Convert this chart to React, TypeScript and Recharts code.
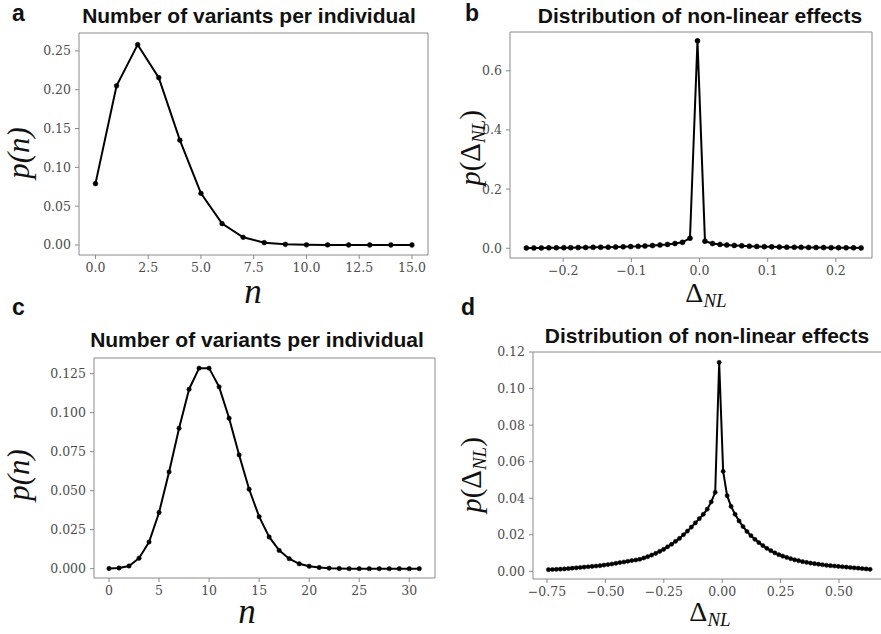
import { LineChart, Line, XAxis, YAxis } from 'recharts';

const W = 881;
const H = 634;
const CHART_W = 900;

// a: number of variants per individual (low)
const variantsA = [0, 1, 2, 3, 4, 5, 6, 7, 8, 9, 10, 11, 12, 13, 14, 15];
const probA = [0.079, 0.205, 0.258, 0.2155, 0.135, 0.0665, 0.0275, 0.0099, 0.003, 0.0008, 0.0002, 0.0001, 0, 0, 0, 0];
const ticksAX = [0, 2.5, 5, 7.5, 10, 12.5, 15];
const ticksAY = [0, 0.05, 0.1, 0.15, 0.2, 0.25];

// b: distribution of non-linear effects (narrow)
const deltaB = [
  -0.254, -0.243, -0.232, -0.221, -0.21, -0.199, -0.189, -0.178, -0.167, -0.156,
  -0.145, -0.134, -0.123, -0.112, -0.101, -0.09, -0.08, -0.069, -0.058, -0.047,
  -0.036, -0.025, -0.014, -0.003, 0.008, 0.019, 0.03, 0.04, 0.051, 0.062,
  0.073, 0.084, 0.095, 0.106, 0.117, 0.128, 0.139, 0.149, 0.16, 0.171,
  0.182, 0.193, 0.204, 0.215, 0.226, 0.237,
];
const probB = [
  0.001, 0.001, 0.0012, 0.0013, 0.0015, 0.0017, 0.002, 0.0022, 0.0025, 0.003,
  0.0033, 0.0037, 0.0042, 0.0048, 0.0055, 0.0063, 0.0075, 0.009, 0.011, 0.013,
  0.016, 0.02, 0.034, 0.701, 0.024, 0.016, 0.013, 0.011, 0.0095, 0.008,
  0.007, 0.006, 0.0053, 0.0047, 0.0042, 0.0037, 0.0033, 0.003, 0.0027, 0.0024,
  0.0021, 0.0019, 0.0017, 0.0015, 0.0013, 0.0012,
];
const ticksBX = [-0.2, -0.1, 0, 0.1, 0.2];
const ticksBY = [0, 0.2, 0.4, 0.6];

// c: number of variants per individual (high)
const variantsC = [
  0, 1, 2, 3, 4, 5, 6, 7, 8, 9, 10, 11, 12, 13, 14, 15,
  16, 17, 18, 19, 20, 21, 22, 23, 24, 25, 26, 27, 28, 29, 30, 31,
];
const probC = [
  0.0001, 0.0004, 0.0017, 0.0067, 0.0171, 0.036, 0.062, 0.09, 0.115, 0.1285, 0.1285, 0.1165, 0.0964, 0.0729, 0.0509, 0.0333,
  0.0203, 0.0117, 0.0064, 0.0031, 0.0015, 0.0007, 0.0003, 0.0001, 0, 0, 0, 0, 0, 0, 0, 0,
];
const ticksCX = [0, 5, 10, 15, 20, 25, 30];
const ticksCY = [0, 0.025, 0.05, 0.075, 0.1, 0.125];

// d: distribution of non-linear effects (wide)
const deltaD = [
  -0.744, -0.727, -0.71, -0.693, -0.676, -0.659, -0.642, -0.625, -0.608, -0.591,
  -0.574, -0.557, -0.54, -0.523, -0.506, -0.489, -0.472, -0.455, -0.438, -0.421,
  -0.404, -0.387, -0.37, -0.353, -0.336, -0.319, -0.302, -0.285, -0.268, -0.251,
  -0.234, -0.217, -0.2, -0.183, -0.166, -0.149, -0.132, -0.115, -0.098, -0.081,
  -0.064, -0.047, -0.03, -0.013, 0.004, 0.021, 0.038, 0.055, 0.072, 0.089,
  0.106, 0.123, 0.14, 0.157, 0.174, 0.191, 0.208, 0.225, 0.242, 0.259,
  0.276, 0.293, 0.31, 0.327, 0.344, 0.361, 0.378, 0.395, 0.412, 0.429,
  0.446, 0.463, 0.48, 0.497, 0.514, 0.531, 0.548, 0.565, 0.582, 0.599,
  0.616, 0.633,
];
const probD = [
  0.0009, 0.001, 0.0011, 0.0012, 0.0013, 0.0015, 0.0017, 0.0019, 0.0021, 0.0023,
  0.0025, 0.0027, 0.0029, 0.0031, 0.0034, 0.0037, 0.004, 0.0044, 0.0048, 0.0051,
  0.0055, 0.0059, 0.0062, 0.0066, 0.0073, 0.008, 0.0089, 0.0098, 0.0109, 0.012,
  0.0134, 0.0148, 0.0164, 0.018, 0.02, 0.022, 0.0242, 0.0265, 0.0288, 0.0312,
  0.034, 0.038, 0.0432, 0.1143, 0.0547, 0.0414, 0.0355, 0.0312, 0.0276, 0.0245,
  0.0218, 0.0195, 0.0175, 0.0157, 0.0141, 0.0126, 0.0113, 0.0101, 0.0091, 0.0083,
  0.0076, 0.0069, 0.0063, 0.0058, 0.0053, 0.0049, 0.0045, 0.0042, 0.0039, 0.0036,
  0.0033, 0.0031, 0.0029, 0.0027, 0.0025, 0.0023, 0.0021, 0.0019, 0.0017, 0.0015,
  0.0013, 0.0011,
];
const ticksDX = [-0.75, -0.5, -0.25, 0, 0.25, 0.5];
const ticksDY = [0, 0.02, 0.04, 0.06, 0.08, 0.1, 0.12];

const toPoints = (xs: number[], ys: number[]) => xs.map((x, i) => ({ x, y: ys[i] }));

const fmt = (digits: number) => (v: number) =>
  v < 0 ? '\u2212' + Math.abs(v).toFixed(digits) : v.toFixed(digits);

const frameColor = '#8a8a8a';
const tickStyle = { fill: '#4d4d4d', fontSize: 12.5, fontFamily: '"DejaVu Serif", serif' };
const mathFont = '"Liberation Serif", "Times New Roman", serif';
const titleFont = '"Liberation Sans", Arial, sans-serif';

type Box = { left: number; top: number; right: number; bottom: number };

interface PanelProps {
  data: { x: number; y: number }[];
  box: Box;
  xDomain: [number, number];
  yDomain: [number, number];
  xTicks: number[];
  yTicks: number[];
  xDigits: number;
  yDigits: number;
  dotR: number;
}

// each panel is a full-size transparent chart; the axis sizes place the plot box
function Panel({ data, box, xDomain, yDomain, xTicks, yTicks, xDigits, yDigits, dotR }: PanelProps) {
  return (
    <div style={{ position: 'absolute', left: 0, top: 0 }}>
      <LineChart
        width={CHART_W}
        height={H}
        data={data}
        margin={{ left: 0, top: 0, right: 0, bottom: 0 }}
      >
        <XAxis
          type="number"
          dataKey="x"
          domain={xDomain}
          allowDataOverflow
          ticks={xTicks}
          interval={0}
          height={H - box.bottom}
          tickSize={4}
          tickMargin={4}
          stroke={frameColor}
          tick={tickStyle}
          tickFormatter={fmt(xDigits)}
        />
        <XAxis
          xAxisId="top"
          orientation="top"
          type="number"
          dataKey="x"
          domain={xDomain}
          allowDataOverflow
          height={box.top}
          tick={false}
          tickLine={false}
          stroke={frameColor}
        />
        <YAxis
          type="number"
          domain={yDomain}
          allowDataOverflow
          ticks={yTicks}
          interval={0}
          width={box.left}
          tickSize={4}
          tickMargin={4}
          stroke={frameColor}
          tick={tickStyle}
          tickFormatter={fmt(yDigits)}
        />
        <YAxis
          yAxisId="right"
          orientation="right"
          type="number"
          domain={yDomain}
          allowDataOverflow
          width={CHART_W - box.right}
          tick={false}
          tickLine={false}
          stroke={frameColor}
        />
        <Line
          type="linear"
          dataKey="y"
          stroke="#000"
          strokeWidth={2}
          dot={{ r: dotR, fill: '#000', stroke: '#000', strokeWidth: 0.5 }}
          activeDot={false}
          isAnimationActive={false}
        />
      </LineChart>
    </div>
  );
}

function Title({ x, y, children }: { x: number; y: number; children: string }) {
  return (
    <text x={x} y={y} textAnchor="middle" fontFamily={titleFont} fontWeight="bold" fontSize={21} fill="#111">
      {children}
    </text>
  );
}

function Letter({ x, y, children }: { x: number; y: number; children: string }) {
  return (
    <text x={x} y={y} fontFamily={titleFont} fontWeight="bold" fontSize={23} fill="#111">
      {children}
    </text>
  );
}

function PnLabel({ cx, cy }: { cx: number; cy: number }) {
  return (
    <text
      transform={`translate(${cx},${cy}) rotate(-90)`}
      textAnchor="middle"
      fontFamily={mathFont}
      fontStyle="italic"
      fontSize={31}
      fill="#111"
    >
      p(n)
    </text>
  );
}

function PDeltaLabel({ cx, cy }: { cx: number; cy: number }) {
  return (
    <text
      transform={`translate(${cx},${cy}) rotate(-90)`}
      textAnchor="middle"
      fontFamily={mathFont}
      fontSize={29}
      fill="#111"
    >
      <tspan fontStyle="italic">p</tspan>
      <tspan>(Δ</tspan>
      <tspan fontStyle="italic" fontSize={19} dy={5}>NL</tspan>
      <tspan dy={-5}>)</tspan>
    </text>
  );
}

function NLabel({ x, y }: { x: number; y: number }) {
  return (
    <text x={x} y={y} textAnchor="middle" fontFamily={mathFont} fontStyle="italic" fontSize={35} fill="#111">
      n
    </text>
  );
}

function DeltaLabel({ x, y }: { x: number; y: number }) {
  return (
    <text x={x} y={y} textAnchor="middle" fontFamily={mathFont} fontSize={28} fill="#111">
      <tspan>Δ</tspan>
      <tspan fontStyle="italic" fontSize={19} dy={5}>NL</tspan>
    </text>
  );
}

export default function App() {
  return (
    <div
      style={{
        position: 'absolute',
        left: 0,
        top: 0,
        width: W,
        height: H,
        overflow: 'hidden',
        background: '#fff',
      }}
    >
      <Panel
        data={toPoints(variantsA, probA)}
        box={{ left: 79, top: 33, right: 428, bottom: 255 }}
        xDomain={[-0.78, 15.76]}
        yDomain={[-0.0129, 0.273]}
        xTicks={ticksAX}
        yTicks={ticksAY}
        xDigits={1}
        yDigits={2}
        dotR={2.4}
      />
      <Panel
        data={toPoints(deltaB, probB)}
        box={{ left: 510, top: 32, right: 872, bottom: 258 }}
        xDomain={[-0.278, 0.253]}
        yDomain={[-0.033, 0.731]}
        xTicks={ticksBX}
        yTicks={ticksBY}
        xDigits={1}
        yDigits={1}
        dotR={2.5}
      />
      <Panel
        data={toPoints(variantsC, probC)}
        box={{ left: 94, top: 358, right: 435, bottom: 578 }}
        xDomain={[-1.5, 32.57]}
        yDomain={[-0.006, 0.135]}
        xTicks={ticksCX}
        yTicks={ticksCY}
        xDigits={0}
        yDigits={3}
        dotR={2.2}
      />
      <Panel
        data={toPoints(deltaD, probD)}
        box={{ left: 533, top: 352, right: 882, bottom: 579 }}
        xDomain={[-0.81, 0.684]}
        yDomain={[-0.0042, 0.12]}
        xTicks={ticksDX}
        yTicks={ticksDY}
        xDigits={2}
        yDigits={2}
        dotR={2.1}
      />
      <svg width={W} height={H} style={{ position: 'absolute', left: 0, top: 0 }}>
        <Letter x={12} y={21}>a</Letter>
        <Letter x={465} y={21}>b</Letter>
        <Letter x={12} y={315}>c</Letter>
        <Letter x={461} y={315}>d</Letter>

        <Title x={249} y={23}>Number of variants per individual</Title>
        <Title x={700} y={23}>Distribution of non-linear effects</Title>
        <Title x={257} y={347}>Number of variants per individual</Title>
        <Title x={707} y={343}>Distribution of non-linear effects</Title>

        <PnLabel cx={29} cy={153} />
        <PnLabel cx={29} cy={475} />
        <PDeltaLabel cx={480} cy={148} />
        <PDeltaLabel cx={481} cy={475} />

        <NLabel x={253} y={303} />
        <NLabel x={247} y={623} />
        <DeltaLabel x={706} y={302} />
        <DeltaLabel x={710} y={621} />
      </svg>
    </div>
  );
}
